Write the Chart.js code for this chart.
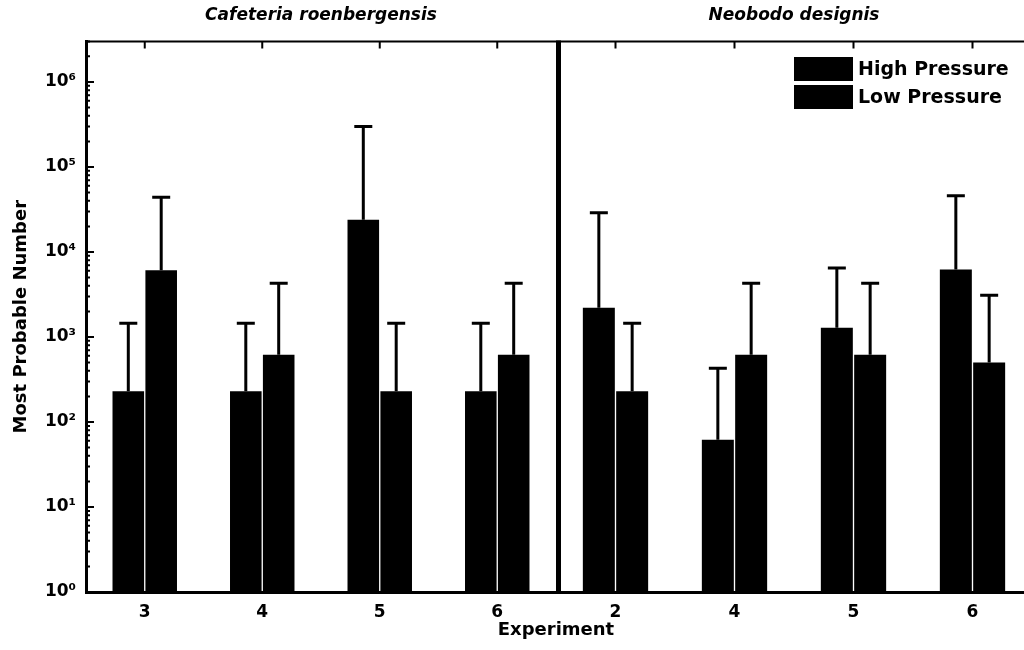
<!DOCTYPE html>
<html>
<head>
<meta charset="utf-8">
<script src="https://cdn.jsdelivr.net/npm/chart.js@4.4.0/dist/chart.umd.min.js"></script>
<style>
  html, body { margin: 0; padding: 0; background: #fff; overflow: hidden; }
  #wrap { position: relative; width: 1024px; height: 650px; overflow: hidden; }
  #leftChart { position: absolute; left: 0; top: 0; }
  #rightChart { position: absolute; left: 556px; top: 0; }
  #xTitle { position: absolute; left: 456px; width: 200px; top: 618px; text-align: center;
            font: bold 18px 'DejaVu Sans'; color: #000; }
</style>
</head>
<body>
<div id="wrap">
  <canvas id="leftChart" width="642" height="650"></canvas>
  <canvas id="rightChart" width="500" height="650"></canvas>
  <div id="xTitle">Experiment</div>
</div>
<script>
// data
const leftTitle = 'Cafeteria roenbergensis';
const rightTitle = 'Neobodo designis';
const leftLabels = ['3', '4', '5', '6'];
const rightLabels = ['2', '4', '5', '6'];

const crHigh    = [230, 230, 24000, 230];
const crHighErr = [1450, 1450, 300000, 1450];
const crLow     = [6100, 620, 230, 620];
const crLowErr  = [44000, 4300, 1450, 4300];

const ndHigh    = [2200, 62, 1280, 6200];
const ndHighErr = [29000, 430, 6500, 46000];
const ndLow     = [230, 620, 620, 500];
const ndLowErr  = [1450, 4300, 4300, 3100];

const yPowers = [0, 1, 2, 3, 4, 5, 6];
const sup = ['\u2070', '\u00B9', '\u00B2', '\u00B3', '\u2074', '\u2075', '\u2076'];

Chart.defaults.font.family = "'DejaVu Sans'";
Chart.defaults.font.weight = 'bold';
Chart.defaults.color = '#000';

// error bars + frame + inward ticks
const framePlugin = {
  id: 'frame',
  afterDatasetsDraw(chart, args, opts) {
    const ctx = chart.ctx;
    const area = chart.chartArea;
    const xs = chart.scales.x, ys = chart.scales.y;
    ctx.save();
    ctx.strokeStyle = '#000';

    chart.data.datasets.forEach((ds, i) => {
      const meta = chart.getDatasetMeta(i);
      meta.data.forEach((bar, j) => {
        const top = ys.getPixelForValue(ds.errors[j]);
        ctx.lineWidth = 3;
        ctx.beginPath();
        ctx.moveTo(bar.x, bar.y);
        ctx.lineTo(bar.x, top);
        ctx.moveTo(bar.x - 9, top);
        ctx.lineTo(bar.x + 9, top);
        ctx.stroke();
      });
    });

    // top border and its ticks
    ctx.lineWidth = 2;
    ctx.beginPath();
    ctx.moveTo(area.left, area.top);
    ctx.lineTo(area.right, area.top);
    xs.ticks.forEach((t, k) => {
      const px = xs.getPixelForTick(k);
      ctx.moveTo(px, area.top);
      ctx.lineTo(px, area.top + 7);
    });
    ctx.stroke();

    if (opts.yTicks) {
      ctx.lineWidth = 2;
      ctx.beginPath();
      yPowers.forEach(p => {
        for (let k = 1; k <= 9; k++) {
          const v = k * Math.pow(10, p);
          if (v > ys.max) break;
          const py = ys.getPixelForValue(v);
          ctx.moveTo(area.left, py);
          ctx.lineTo(area.left + (k === 1 ? 8 : 4), py);
        }
      });
      ctx.stroke();
    }

    if (opts.thickLeft) {
      ctx.lineWidth = 5;
      ctx.beginPath();
      ctx.moveTo(area.left + 2.5, area.top - 1);
      ctx.lineTo(area.left + 2.5, area.bottom);
      ctx.stroke();
    }
    ctx.restore();
  }
};

const boxLegend = {
  id: 'boxLegend',
  afterDraw(chart, args, opts) {
    if (!opts.show) return;
    const ctx = chart.ctx;
    ctx.save();
    ctx.font = "bold 19px 'DejaVu Sans'";
    ctx.textBaseline = 'middle';
    chart.data.datasets.forEach((ds, i) => {
      const top = opts.top + i * opts.step;
      ctx.fillStyle = ds.backgroundColor;
      ctx.fillRect(opts.left, top, opts.boxW, opts.boxH);
      ctx.fillStyle = '#000';
      ctx.fillText(ds.label, opts.left + opts.boxW + 5, top + opts.boxH / 2 + 1);
    });
    ctx.restore();
  }
};

function makeChart(id, title, labels, high, highErr, low, lowErr, isLeft) {
  return new Chart(document.getElementById(id), {
    type: 'bar',
    data: {
      labels: labels,
      datasets: [
        { label: 'High Pressure', data: high, errors: highErr, backgroundColor: '#000', borderWidth: 0 },
        { label: 'Low Pressure', data: low, errors: lowErr, backgroundColor: '#000', borderWidth: 0 }
      ]
    },
    options: {
      responsive: false,
      animation: false,
      devicePixelRatio: 1,
      categoryPercentage: 0.56,
      barPercentage: 0.96,
      layout: { padding: { left: 0, right: isLeft ? 86 : 24, top: 0, bottom: 0 } },
      plugins: {
        legend: { display: false },
        tooltip: { enabled: false },
        title: {
          display: true,
          fullSize: false,
          text: title,
          font: { size: 17, weight: 'bold', style: 'italic' },
          color: '#000',
          padding: { top: 5, bottom: 16 }
        },
        frame: { yTicks: isLeft, thickLeft: !isLeft },
        boxLegend: { show: !isLeft, left: 238, top: 57, step: 28, boxW: 59, boxH: 24 }
      },
      scales: {
        x: {
          type: 'category',
          offset: true,
          grid: { display: false, drawTicks: false },
          border: { display: true, color: '#000', width: 3 },
          ticks: { font: { size: 17, weight: 'bold' }, color: '#000', padding: 10 },
          afterFit: s => { s.height = 58; }
        },
        y: {
          type: 'logarithmic',
          display: isLeft,
          min: 1,
          max: 3000000,
          grid: { display: false, drawTicks: false },
          border: { display: true, color: '#000', width: 3 },
          afterBuildTicks: s => { s.ticks = yPowers.map(p => ({ value: Math.pow(10, p) })); },
          ticks: {
            font: { size: 17, weight: 'bold' },
            color: '#000',
            padding: 10,
            callback: v => '10' + sup[Math.round(Math.log10(v))]
          },
          title: {
            display: true,
            text: 'Most Probable Number',
            font: { size: 18, weight: 'bold' },
            color: '#000',
            padding: { top: 11, bottom: 0 }
          },
          afterFit: s => { s.width = isLeft ? 86 : 0; }
        }
      }
    },
    plugins: [framePlugin, boxLegend]
  });
}

makeChart('leftChart', leftTitle, leftLabels, crHigh, crHighErr, crLow, crLowErr, true);
makeChart('rightChart', rightTitle, rightLabels, ndHigh, ndHighErr, ndLow, ndLowErr, false);
</script>
</body>
</html>
